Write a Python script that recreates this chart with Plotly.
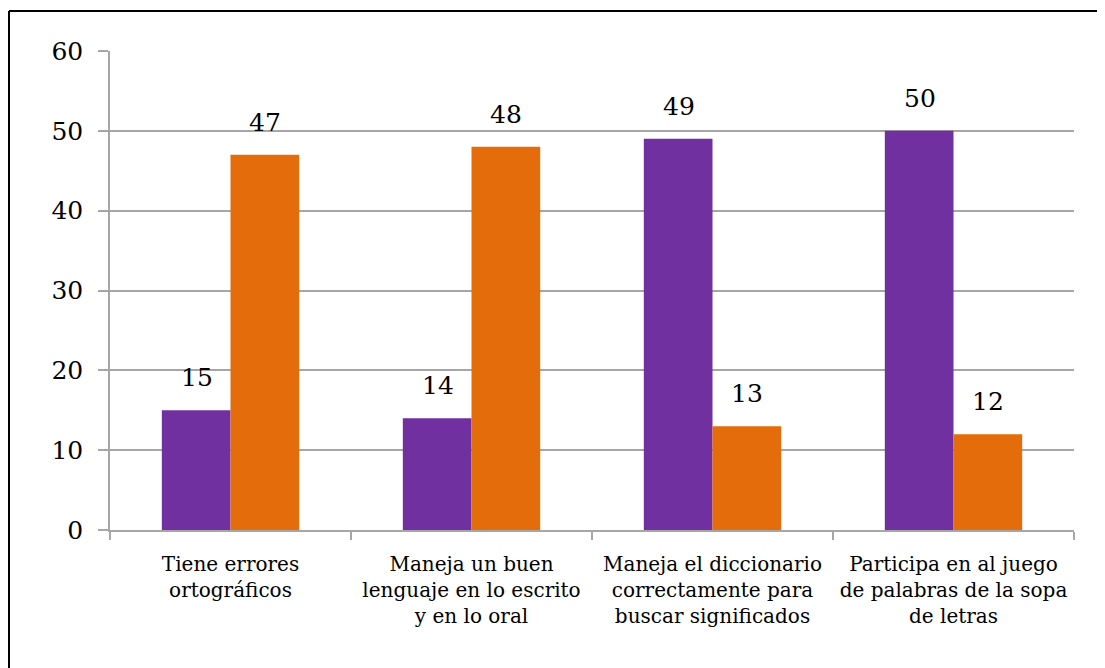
import plotly.graph_objects as go

categories = [
    "Tiene errores<br>ortográficos",
    "Maneja un buen<br>lenguaje en lo escrito<br>y en lo oral",
    "Maneja el diccionario<br>correctamente para<br>buscar significados",
    "Participa en al juego<br>de palabras de la sopa<br>de letras",
]
serie_a = [15, 14, 49, 50]
serie_b = [47, 48, 13, 12]
tick_vals = [0, 10, 20, 30, 40, 50, 60]

PURPLE = "#7030A0"
ORANGE = "#E46C0A"
FONT = "DejaVu Serif"

fig = go.Figure()
fig.add_trace(go.Bar(x=categories, y=serie_a, marker=dict(color=PURPLE, line=dict(width=0)), name="A"))
fig.add_trace(go.Bar(x=categories, y=serie_b, marker=dict(color=ORANGE, line=dict(width=0)), name="B"))

ann = []
for c, a, b in zip(categories, serie_a, serie_b):
    for v, sh in ((a, -34), (b, 34)):
        ann.append(dict(x=c, y=v, xref="x", yref="y", text=str(v), showarrow=False,
                        xshift=sh, yshift=16, yanchor="bottom",
                        font=dict(family=FONT, size=25, color="#000")))

# page has an 8px body margin: figure starts at (8, 8) in the window
OFF = 8
W, H = 1105 - OFF, 668 - OFF
L, R, T, B = 110 - OFF, 31, 51 - OFF, 138
pw, ph = W - L - R, H - T - B
fx = (8 - OFF - L) / pw + 1.0 / pw
fy = 1 + (T - (11 - OFF)) / ph

shapes = [
    dict(type="line", xref="paper", yref="paper", x0=fx, x1=fx, y0=fy, y1=-1, line=dict(color="#000", width=2)),
    dict(type="line", xref="paper", yref="paper", x0=fx, x1=1.5, y0=fy, y1=fy, line=dict(color="#000", width=2)),
]

fig.update_layout(
    width=W, height=H,
    margin=dict(l=L, r=R, t=T, b=B, pad=0),
    plot_bgcolor="white", paper_bgcolor="white",
    showlegend=False,
    barmode="group", bargap=0.43, bargroupgap=0,
    annotations=ann, shapes=shapes,
    font=dict(family=FONT, color="#000"),
)
fig.update_yaxes(range=[0, 60], tickvals=tick_vals, showgrid=True, gridcolor="#A6A6A6", gridwidth=1.5,
                 showline=True, linecolor="#A6A6A6", linewidth=1.5, ticks="outside", ticklen=10,
                 tickcolor="#A6A6A6", tickwidth=1.5, tickfont=dict(family=FONT, size=25, color="#000"),
                 ticklabelstandoff=10, zeroline=False)
fig.update_xaxes(showline=True, linecolor="#A6A6A6", linewidth=1.5, ticks="outside", ticklen=8,
                 tickson="boundaries", tickcolor="#A6A6A6", tickwidth=1.5,
                 tickfont=dict(family=FONT, size=20, color="#000"), ticklabelstandoff=15)

fig.write_html("out.html")
